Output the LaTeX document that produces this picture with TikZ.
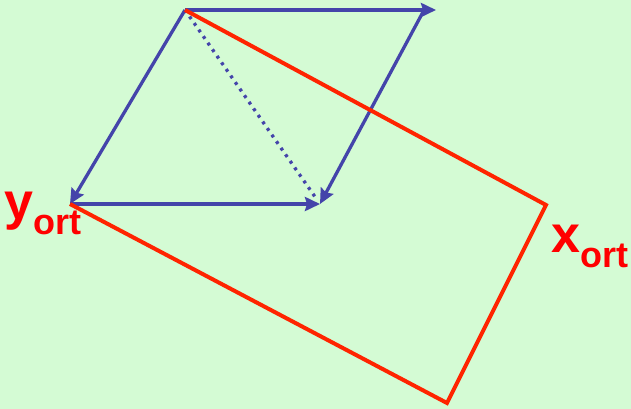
\documentclass[tikz,border=0pt]{standalone}
\usepackage{fontspec}
\setmainfont{Liberation Sans}
\usetikzlibrary{arrows.meta}
\definecolor{bgreen}{RGB}{212,251,212}
\definecolor{vblue}{RGB}{68,68,170}
\definecolor{ored}{RGB}{255,36,0}

\begin{document}
\begin{tikzpicture}[
  x=1pt, y=-1pt,
  e/.style={-{Stealth[length=15pt, width=14pt, inset=2pt]}, draw=vblue, line width=3.3pt},
  diag/.style={draw=vblue, line width=3.3pt, dash pattern=on 3pt off 5pt, shorten >=9pt},
  frame/.style={draw=ored, line width=4pt, line join=miter},
  lbl/.style={text=red, font=\bfseries, inner sep=0pt, anchor=base west}
]
\fill[bgreen] (0,0) rectangle (631,409);
\useasboundingbox (0,0) rectangle (631,409);

% parallelogram of vectors
\coordinate (a) at (185,10);
\coordinate (b) at (436,10);
\coordinate (bs) at (423,12);
\coordinate (c) at (70,204);
\coordinate (d) at (320,204);

% rotated frame
\coordinate (ex) at (546,205);
\coordinate (fx) at (447,403);
\coordinate (cy) at (70,204);

\draw[e] (a) -- (b);
\draw[e] (a) -- (c);
\draw[e] (c) -- (d);
\draw[e] (bs) -- (d);
\draw[diag] (a) -- (d);

\draw[frame] (a) -- (ex) -- (fx) -- (cy);

\node[lbl] (ylab) at (4,219)
  {\fontsize{52}{52}\selectfont y\raisebox{-15pt}{\fontsize{36}{36}\selectfont ort}};
\node[lbl] (xlab) at (551,252)
  {\fontsize{52}{52}\selectfont x\raisebox{-15pt}{\fontsize{36}{36}\selectfont ort}};
\end{tikzpicture}
\end{document}
